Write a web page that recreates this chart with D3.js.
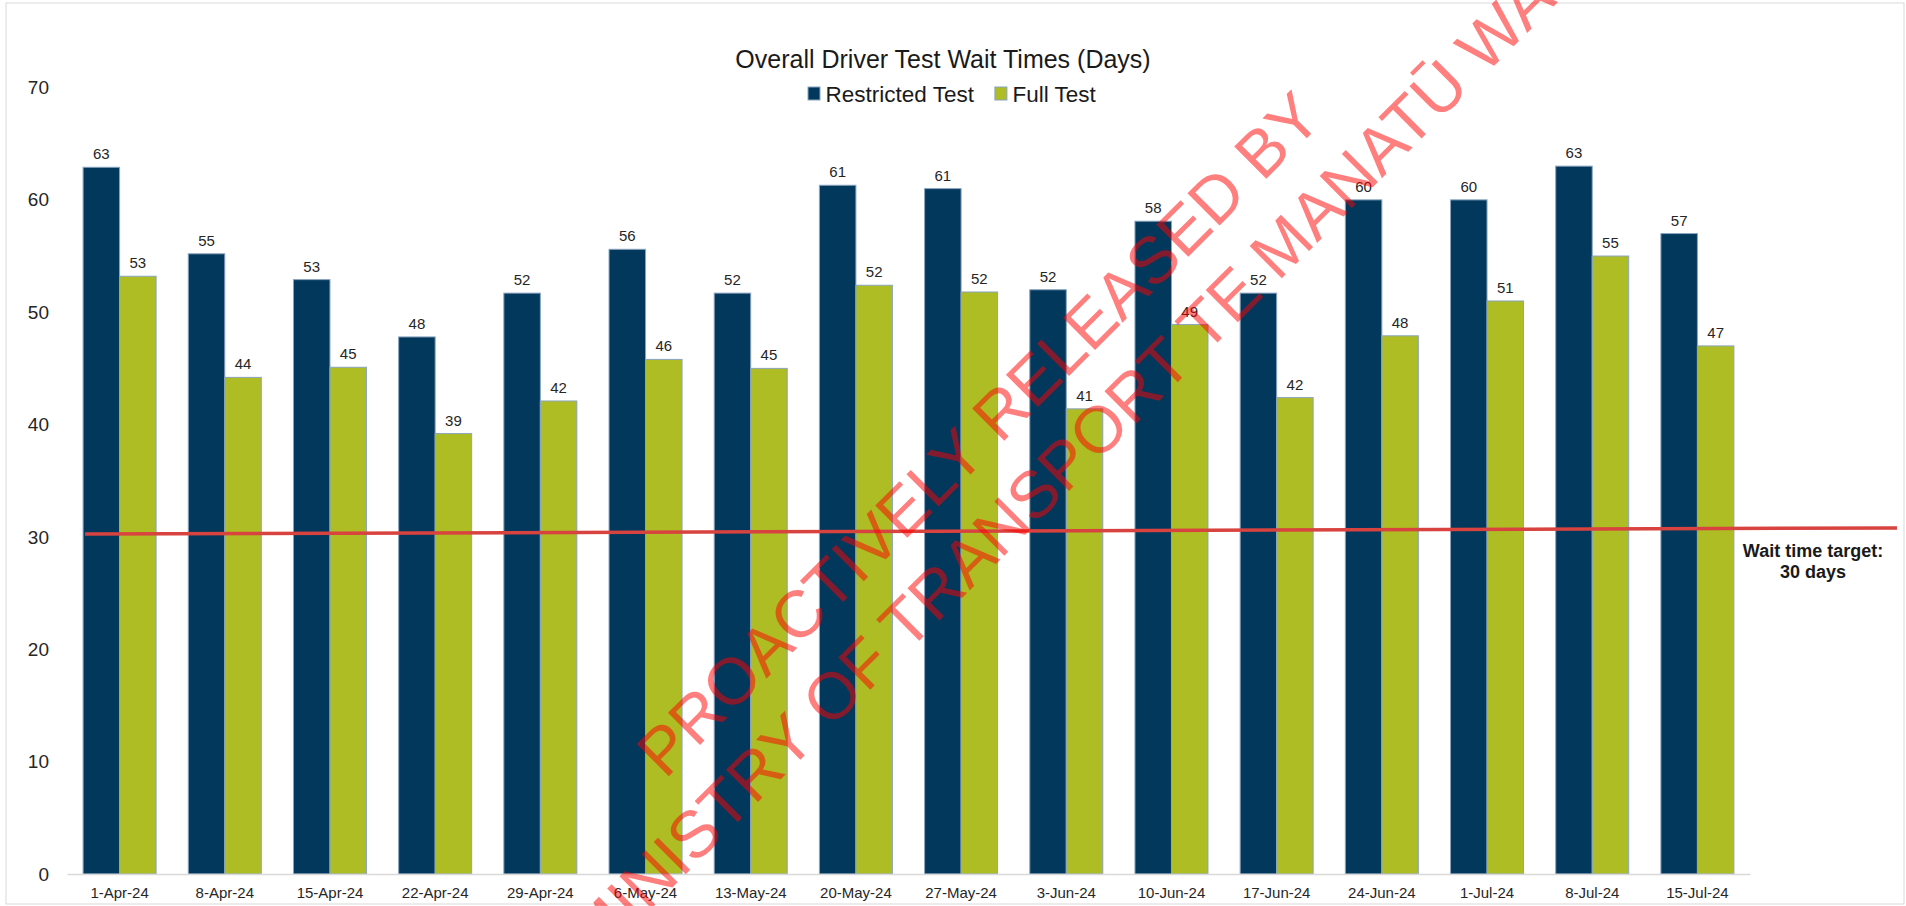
<!DOCTYPE html>
<html>
<head>
<meta charset="utf-8">
<script src="https://cdn.jsdelivr.net/npm/d3@7"></script>
<style>
  body { margin: 0; background: #fff; }
  svg { display: block; font-family: "Liberation Sans", Arial, sans-serif; }
</style>
</head>
<body>
<div class="chart"></div>
<script>
// data
const weeks = ["1-Apr-24", "8-Apr-24", "15-Apr-24", "22-Apr-24", "29-Apr-24", "6-May-24", "13-May-24", "20-May-24",
  "27-May-24", "3-Jun-24", "10-Jun-24", "17-Jun-24", "24-Jun-24", "1-Jul-24", "8-Jul-24", "15-Jul-24"]
const restricted = [62.9, 55.2, 52.9, 47.8, 51.7, 55.6, 51.7, 61.3, 61.0, 52.0, 58.1, 51.7, 60.0, 60.0, 63.0, 57.0]
const fullTest = [53.2, 44.2, 45.1, 39.2, 42.1, 45.8, 45.0, 52.4, 51.8, 41.4, 48.9, 42.4, 47.9, 51.0, 55.0, 47.0]
const seriesNames = ["Restricted Test", "Full Test"]
const yTicks = [0, 10, 20, 30, 40, 50, 60, 70]
const targetEnds = [30.25, 30.8]   // target line is drawn slightly tilted in the original
const targetText = ["Wait time target:", "30 days"]

var width = 1906, height = 906
var margin = ({top: 87.5, right: 156, bottom: 32, left: 67})
var colours = d3.scaleOrdinal().domain(seriesNames).range(["#02385c", "#adbd23"])
var font = '"Liberation Sans", Arial, sans-serif'

var svg = d3.select(".chart")
  .append("svg")
    .attr("width", width)
    .attr("height", height)

// light frame round the chart
svg.append("rect")
  .attr("x", 6).attr("y", 3)
  .attr("width", width - 8).attr("height", height - 5)
  .attr("fill", "none")
  .attr("stroke", "#d9d9d9")

const x = d3.scaleBand()
  .domain(weeks)
  .range([margin.left, width - margin.right])
  .paddingInner(0.306)
  .paddingOuter(0.153)

const xSub = d3.scaleBand()
  .domain(seriesNames)
  .range([0, x.bandwidth()])

const y = d3.scaleLinear()
  .domain([0, 70])
  .range([height - margin.bottom, margin.top])

// y axis, labels only
svg.append("g")
  .attr("transform", `translate(${margin.left},0)`)
  .call(d3.axisLeft(y).tickValues(yTicks).tickSize(0).tickPadding(18))
  .call(g => g.select(".domain").remove())
  .selectAll("text")
    .attr("font-family", font)
    .attr("font-size", 19)
    .attr("fill", "#262626")

// grouped bars
const rows = weeks.map((w, i) => ({week: w, values: [restricted[i], fullTest[i]]}))

const groups = svg.append("g").selectAll("g")
  .data(rows)
  .join("g")
    .attr("transform", d => `translate(${x(d.week)},0)`)

groups.selectAll("rect")
  .data(d => d.values.map((v, j) => ({name: seriesNames[j], value: v})))
  .join("rect")
    .attr("x", d => xSub(d.name))
    .attr("y", d => y(d.value))
    .attr("width", xSub.bandwidth())
    .attr("height", d => y(0) - y(d.value))
    .attr("fill", d => colours(d.name))
    .attr("stroke", "#8aa4bf")
    .attr("stroke-width", 1)

groups.selectAll("text")
  .data(d => d.values.map((v, j) => ({name: seriesNames[j], value: v})))
  .join("text")
    .attr("x", d => xSub(d.name) + xSub.bandwidth() / 2)
    .attr("y", d => y(d.value) - 8)
    .attr("text-anchor", "middle")
    .attr("font-family", font)
    .attr("font-size", 15)
    .attr("fill", "#262626")
    .text(d => Math.round(d.value))

// x axis
const xAxis = svg.append("g")
  .attr("transform", `translate(0,${y(0)})`)
  .call(d3.axisBottom(x).tickSize(0).tickPadding(13))
xAxis.select(".domain")
  .attr("stroke", "#d9d9d9")
  .attr("stroke-width", 1.5)
xAxis.selectAll("text")
  .attr("font-family", font)
  .attr("font-size", 15)
  .attr("fill", "#262626")

// target line + note
svg.append("line")
  .attr("x1", x(weeks[0]) + 2)
  .attr("x2", width - 9)
  .attr("y1", y(targetEnds[0]))
  .attr("y2", y(targetEnds[1]))
  .attr("stroke", "#d8423f")
  .attr("stroke-width", 3.5)

svg.append("text")
  .attr("x", 1813)
  .attr("y", y(targetEnds[1]) + 29)
  .attr("text-anchor", "middle")
  .attr("font-family", font)
  .attr("font-size", 18)
  .attr("font-weight", "bold")
  .attr("fill", "#1a1a1a")
  .selectAll("tspan")
  .data(targetText)
  .join("tspan")
    .attr("x", 1813)
    .attr("dy", (d, i) => i ? 21 : 0)
    .text(d => d)

// title
svg.append("text")
  .attr("x", 943)
  .attr("y", 68)
  .attr("text-anchor", "middle")
  .attr("font-family", font)
  .attr("font-size", 25)
  .attr("fill", "#1a1a1a")
  .text("Overall Driver Test Wait Times (Days)")

// legend
var lx = 808
seriesNames.forEach(function(name) {
  svg.append("rect")
    .attr("x", lx).attr("y", 87)
    .attr("width", 12).attr("height", 13)
    .attr("fill", colours(name))
    .attr("stroke", "#8aa4bf")
  var t = svg.append("text")
    .attr("x", lx + 17.5)
    .attr("y", 101.5)
    .attr("font-family", font)
    .attr("font-size", 22.5)
    .attr("fill", "#1a1a1a")
    .text(name)
  lx += 17.5 + t.node().getComputedTextLength() + 21
})

// release watermark across the chart
const stamp = [
  {text: "PROACTIVELY RELEASED BY", x: 665, y: 780},
  {text: "MINISTRY OF TRANSPORT TE MANATŪ WAKA", x: 596, y: 964}
]
svg.append("g")
  .attr("opacity", 0.5)
  .selectAll("text")
  .data(stamp)
  .join("text")
    .attr("transform", d => `translate(${d.x},${d.y}) rotate(-45)`)
    .attr("font-family", font)
    .attr("font-size", 66)
    .attr("fill", "#ff0000")
    .text(d => d.text)
</script>
</body>
</html>
